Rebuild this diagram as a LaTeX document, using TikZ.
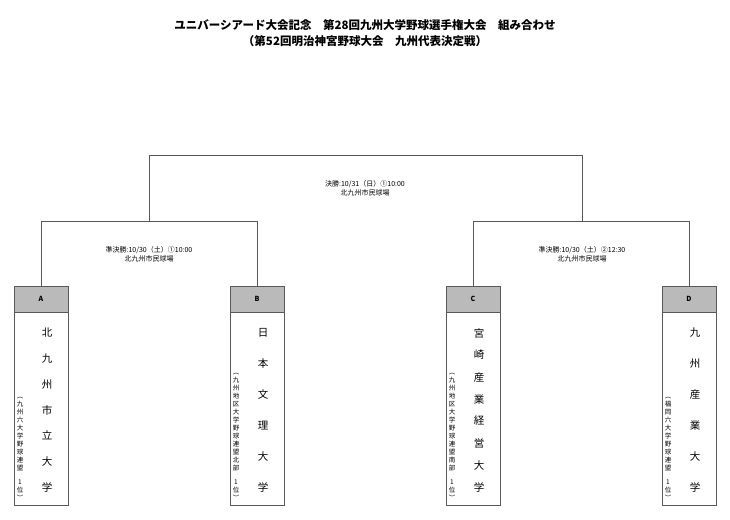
\documentclass[tikz,border=0pt]{standalone}
\usepackage{fontspec}
\setmainfont{Noto Sans CJK JP}
\newfontfamily\jpf{Noto Sans CJK JP}
\begin{document}
\begin{tikzpicture}[x=1pt,y=-1pt,
  ln/.style={draw=black!65,line width=0.8pt},
  hdr/.style={draw=black!65,line width=0.8pt,fill=black!27,minimum width=54pt,minimum height=26pt,inner sep=0pt,font=\fontsize{7}{8}\selectfont\bfseries},
  body/.style={draw=black!65,line width=0.8pt,fill=white,minimum width=54pt,minimum height=193pt,inner sep=0pt},
  lbl/.style={font=\fontsize{7}{8.6}\selectfont,align=center,inner sep=0pt},
  sub/.style={font=\fontsize{6.5}{8}\selectfont,align=center,inner sep=0pt,anchor=south},
  nm/.style={font=\fontsize{10.5}{12}\selectfont,inner sep=0pt}]
\useasboundingbox (0,0) rectangle (730,519);
\node[font=\fontsize{11.5}{16}\selectfont\bfseries,align=center] (title) at (365,33) {ユニバーシアード大会記念　第28回九州大学野球選手権大会　組み合わせ\\（第52回明治神宮野球大会　九州代表決定戦）};
% boxes
\foreach \n/\l/\x in {a/A/41,b/B/257,c/C/473,d/D/689}{
  \node[hdr] (h\n) at (\x,299) {\l};
  \node[body,anchor=north] (b\n) at (h\n.south) {};
}
% bracket
\coordinate (sl) at (41,221); \coordinate (sr) at (257,221);
\coordinate (tl) at (473,221); \coordinate (tr) at (689,221);
\coordinate (fl) at (149,155); \coordinate (fr) at (582,155);
\draw[ln] (ha.north) -- (sl) -- (sr) -- (hb.north);
\draw[ln] (hc.north) -- (tl) -- (tr) -- (hd.north);
\draw[ln] (149,221) -- (fl) -- (fr) -- (582,221);
\node[lbl] (f) at (365,188) {決勝:10/31（日）①10:00\\北九州市民球場};
\node[lbl] (s1) at (149,254) {準決勝:10/30（土）①10:00\\北九州市民球場};
\node[lbl] (s2) at (582,254) {準決勝:10/30（土）②12:30\\北九州市民球場};
% names
\foreach \x/\lst/\n in {47/{北,九,州,市,立,大,学}/7, 263/{日,本,文,理,大,学}/6, 479/{宮,崎,産,業,経,営,大,学}/8, 695/{九,州,産,業,大,学}/6}{
  \foreach \c [count=\i from 0] in \lst {
    \node[nm] at (\x,{333+\i*154/(\n-1)}) {\c};
  }
}
% sub texts
\node[sub] (sa) at (20,501) {︵\\九\\州\\六\\大\\学\\野\\球\\連\\盟\\[6pt]1\\位\\︶};
\node[sub] (sb) at (236,501) {︵\\九\\州\\地\\区\\大\\学\\野\\球\\連\\盟\\北\\部\\[6pt]1\\位\\︶};
\node[sub] (sc) at (452,501) {︵\\九\\州\\地\\区\\大\\学\\野\\球\\連\\盟\\南\\部\\[6pt]1\\位\\︶};
\node[sub] (sd) at (668,501) {︵\\福\\岡\\六\\大\\学\\野\\球\\連\\盟\\[6pt]1\\位\\︶};
\end{tikzpicture}
\end{document}
